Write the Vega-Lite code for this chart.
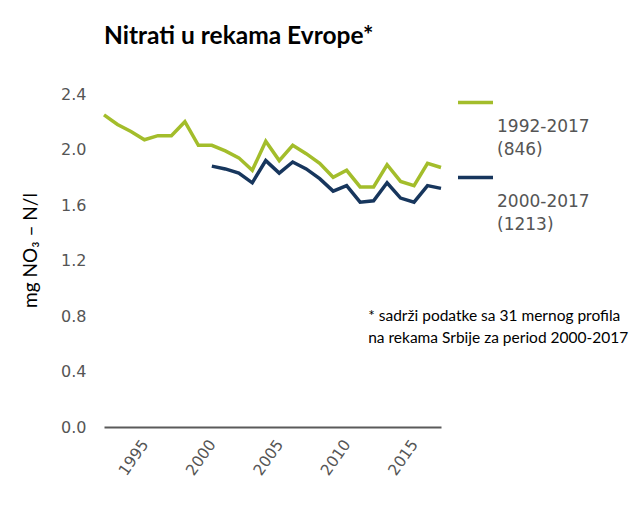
{
  "$schema": "https://vega.github.io/schema/vega-lite/v6.json",
  "width": 337,
  "height": 333,
  "autosize": {"type": "none"},
  "padding": {"left": 104, "top": 94, "right": 189, "bottom": 81},
  "background": "white",
  "title": {
    "text": "Nitrati u rekama Evrope*",
    "anchor": "start",
    "frame": "group",
    "font": "Lato",
    "fontWeight": "bold",
    "fontSize": 24.5,
    "color": "#000000",
    "offset": 15,
    "baseline": "alphabetic"
  },
  "config": {
    "view": {"stroke": null},
    "font": "DejaVu Sans"
  },
  "datasets": {
    "series": [
      {"year": 1992, "value": 2.25, "series": "1992-2017"},
      {"year": 1993, "value": 2.18, "series": "1992-2017"},
      {"year": 1994, "value": 2.13, "series": "1992-2017"},
      {"year": 1995, "value": 2.07, "series": "1992-2017"},
      {"year": 1996, "value": 2.10, "series": "1992-2017"},
      {"year": 1997, "value": 2.10, "series": "1992-2017"},
      {"year": 1998, "value": 2.20, "series": "1992-2017"},
      {"year": 1999, "value": 2.03, "series": "1992-2017"},
      {"year": 2000, "value": 2.03, "series": "1992-2017"},
      {"year": 2001, "value": 1.99, "series": "1992-2017"},
      {"year": 2002, "value": 1.94, "series": "1992-2017"},
      {"year": 2003, "value": 1.85, "series": "1992-2017"},
      {"year": 2004, "value": 2.06, "series": "1992-2017"},
      {"year": 2005, "value": 1.92, "series": "1992-2017"},
      {"year": 2006, "value": 2.03, "series": "1992-2017"},
      {"year": 2007, "value": 1.97, "series": "1992-2017"},
      {"year": 2008, "value": 1.90, "series": "1992-2017"},
      {"year": 2009, "value": 1.80, "series": "1992-2017"},
      {"year": 2010, "value": 1.85, "series": "1992-2017"},
      {"year": 2011, "value": 1.73, "series": "1992-2017"},
      {"year": 2012, "value": 1.73, "series": "1992-2017"},
      {"year": 2013, "value": 1.89, "series": "1992-2017"},
      {"year": 2014, "value": 1.77, "series": "1992-2017"},
      {"year": 2015, "value": 1.74, "series": "1992-2017"},
      {"year": 2016, "value": 1.90, "series": "1992-2017"},
      {"year": 2017, "value": 1.87, "series": "1992-2017"},
      {"year": 2000, "value": 1.88, "series": "2000-2017"},
      {"year": 2001, "value": 1.86, "series": "2000-2017"},
      {"year": 2002, "value": 1.83, "series": "2000-2017"},
      {"year": 2003, "value": 1.76, "series": "2000-2017"},
      {"year": 2004, "value": 1.92, "series": "2000-2017"},
      {"year": 2005, "value": 1.83, "series": "2000-2017"},
      {"year": 2006, "value": 1.91, "series": "2000-2017"},
      {"year": 2007, "value": 1.86, "series": "2000-2017"},
      {"year": 2008, "value": 1.79, "series": "2000-2017"},
      {"year": 2009, "value": 1.70, "series": "2000-2017"},
      {"year": 2010, "value": 1.74, "series": "2000-2017"},
      {"year": 2011, "value": 1.62, "series": "2000-2017"},
      {"year": 2012, "value": 1.63, "series": "2000-2017"},
      {"year": 2013, "value": 1.76, "series": "2000-2017"},
      {"year": 2014, "value": 1.65, "series": "2000-2017"},
      {"year": 2015, "value": 1.62, "series": "2000-2017"},
      {"year": 2016, "value": 1.74, "series": "2000-2017"},
      {"year": 2017, "value": 1.72, "series": "2000-2017"}
    ],
    "note": [
      {"text": "* sadrži podatke sa 31 mernog profila\nna rekama Srbije za period 2000-2017"}
    ]
  },
  "layer": [
    {
      "data": {"name": "series"},
      "mark": {"type": "line", "strokeWidth": 3.5, "strokeJoin": "miter"},
      "encoding": {
        "x": {
          "field": "year",
          "type": "quantitative",
          "scale": {"domain": [1992, 2017], "nice": false, "zero": false},
          "axis": {
            "title": null,
            "values": [1995, 2000, 2005, 2010, 2015],
            "format": "d",
            "grid": false,
            "ticks": false,
            "domain": true,
            "domainColor": "#5a5a5a",
            "domainWidth": 2,
            "labelAngle": -55,
            "labelAlign": "right",
            "labelBaseline": "middle",
            "labelPadding": 14,
            "labelFont": "DejaVu Sans",
            "labelFontSize": 15.5,
            "labelColor": "#555555"
          }
        },
        "y": {
          "field": "value",
          "type": "quantitative",
          "scale": {"domain": [0, 2.4], "nice": false},
          "axis": {
            "title": "mg NO₃ – N/l",
            "titleFont": "Lato",
            "titleFontSize": 19,
            "titleFontWeight": "normal",
            "titleColor": "#000000",
            "titlePadding": 20,
            "titleY": 156,
            "values": [0, 0.4, 0.8, 1.2, 1.6, 2.0, 2.4],
            "format": ".1f",
            "grid": false,
            "ticks": false,
            "domain": false,
            "labelPadding": 18,
            "labelFont": "DejaVu Sans",
            "labelFontSize": 16,
            "labelColor": "#555555"
          }
        },
        "color": {
          "field": "series",
          "type": "nominal",
          "scale": {"domain": ["1992-2017", "2000-2017"], "range": ["#a3bd2b", "#17365d"]},
          "legend": {
            "title": null,
            "orient": "none",
            "legendX": 352,
            "legendY": -11,
            "direction": "vertical",
            "symbolType": "stroke",
            "symbolSize": 1225,
            "symbolStrokeWidth": 3.5,
            "labelFont": "DejaVu Sans",
            "labelFontSize": 17,
            "labelColor": "#555555",
            "labelBaseline": "top",
            "labelOffset": 2,
            "labelExpr": "datum.label == '1992-2017' ? ['1992-2017', '(846)'] : ['2000-2017', '(1213)']",
            "rowPadding": -4,
            "encode": {
              "labels": {"update": {"dy": {"value": 16}, "lineHeight": {"value": 23}}}
            }
          }
        }
      }
    },
    {
      "data": {"name": "note"},
      "mark": {
        "type": "text",
        "align": "left",
        "baseline": "top",
        "font": "Lato",
        "fontSize": 15.5,
        "color": "#000000",
        "lineBreak": "\n",
        "lineHeight": 22
      },
      "encoding": {
        "text": {"field": "text"},
        "x": {"datum": 2011.6},
        "y": {"datum": 0.85}
      }
    }
  ]
}
